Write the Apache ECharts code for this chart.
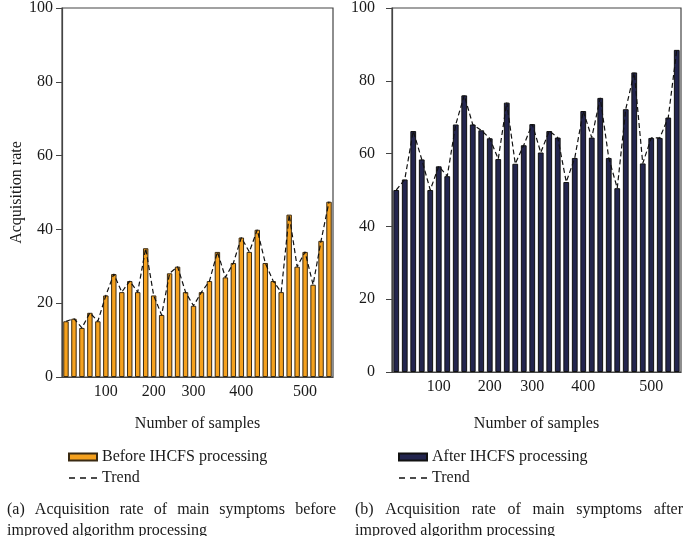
<!DOCTYPE html>
<html>
<head>
<meta charset="utf-8">
<script src="https://cdn.jsdelivr.net/npm/echarts@6/dist/echarts.min.js"></script>
<style>
  html, body { margin: 0; padding: 0; background: #fff; }
  #main { width: 683px; height: 536px; }
</style>
</head>
<body>
<div id="main"></div>
<script>
// sample counts for each bar (only some of them get a label)
var samples = [20, 35, 50, 65, 80, 100, 115, 130, 145, 160, 180, 200, 220, 240, 260, 280, 300,
               315, 330, 345, 360, 380, 400, 415, 430, 445, 460, 470, 480, 490, 500, 515, 530, 545];
var tickLabels = ['100', '200', '300', '400', '500'];

// acquisition rate before IHCFS
var before = [15.1, 15.8, 13.3, 17.4, 15.1, 22.1, 27.9, 23.0, 26.0, 23.0, 34.9, 22.1, 16.8, 28.1,
              29.9, 23.0, 19.3, 23.0, 26.0, 33.9, 27.0, 30.9, 37.8, 33.9, 39.9, 30.9, 26.0, 23.0,
              44.0, 29.9, 33.9, 25.0, 36.9, 47.5];
// acquisition rate after IHCFS
var after = [50.0, 52.9, 66.2, 58.4, 50.0, 56.5, 53.8, 68.0, 76.0, 68.0, 66.4, 64.2, 58.5, 74.0,
             57.2, 62.3, 68.1, 60.3, 66.2, 64.4, 52.2, 58.8, 71.7, 64.4, 75.3, 58.8, 50.5, 72.2,
             82.3, 57.3, 64.3, 64.3, 69.9, 88.5];

var captionA = ['(a) Acquisition rate of main symptoms before', 'improved algorithm processing'];
var captionB = ['(b) Acquisition rate of main symptoms after', 'improved algorithm processing'];

var FONT = '"Liberation Serif", "DejaVu Serif", serif';
var TXT = '#1a1a1a';
var AXIS = '#444';
// three short dashes, used as legend icon for the trend line
var DASH_ICON = 'path://M0,0L6,0L6,1.3L0,1.3ZM11,0L17,0L17,1.3L11,1.3ZM22,0L28,0L28,1.3L22,1.3Z';

function showLabel(i, v) {
    return tickLabels.indexOf(String(v)) >= 0;
}

function xAxisFor(gi, gap) {
    return {
        type: 'category',
        gridIndex: gi,
        data: samples,
        name: 'Number of samples',
        nameLocation: 'middle',
        nameGap: gap,
        nameTextStyle: { fontFamily: FONT, fontSize: 16, color: TXT },
        axisLine: { lineStyle: { color: AXIS, width: 1.2 } },
        axisTick: { alignWithLabel: true, interval: showLabel, length: 5, lineStyle: { color: AXIS } },
        axisLabel: { interval: showLabel, margin: 7, fontFamily: FONT, fontSize: 16, color: TXT },
        splitLine: { show: false }
    };
}

function yAxisFor(gi, name, margin) {
    return {
        type: 'value',
        gridIndex: gi,
        min: 0,
        max: 100,
        interval: 20,
        name: name,
        nameLocation: 'middle',
        nameGap: 37,
        nameTextStyle: { fontFamily: FONT, fontSize: 16, color: TXT },
        axisLine: { show: true, lineStyle: { color: AXIS, width: 1.2 } },
        axisTick: { show: true, length: 6, lineStyle: { color: AXIS } },
        axisLabel: { margin: margin, fontFamily: FONT, fontSize: 16, color: TXT },
        splitLine: { show: false }
    };
}

// lay out a justified caption line word by word
var measure = document.createElement('canvas').getContext('2d');
measure.font = '16px ' + FONT;
function captionTexts(lines, x0, x1, y0) {
    var out = [];
    lines.forEach(function (line, li) {
        var y = y0 + li * 21;
        if (li === lines.length - 1) {
            out.push({ type: 'text', left: x0, top: y,
                style: { text: line, font: '16px ' + FONT, fill: TXT } });
            return;
        }
        var words = line.split(' ');
        var total = 0;
        words.forEach(function (w) { total += measure.measureText(w).width; });
        var gap = (x1 - x0 - total) / (words.length - 1);
        var x = x0;
        words.forEach(function (w) {
            out.push({ type: 'text', left: x, top: y,
                style: { text: w, font: '16px ' + FONT, fill: TXT } });
            x += measure.measureText(w).width + gap;
        });
    });
    return out;
}

function legendFor(left, barName) {
    return {
        left: left, top: 444, orient: 'vertical', itemWidth: 28, itemHeight: 7, itemGap: 5,
        textStyle: { fontFamily: FONT, fontSize: 16, color: TXT },
        data: [{ name: barName, icon: 'rect' }, { name: 'Trend', icon: DASH_ICON }]
    };
}

var chart = echarts.init(document.getElementById('main'));

var option = {
    backgroundColor: '#fff',
    animation: false,
    grid: [
        { left: 62, top: 6, width: 271, height: 371, show: true, borderColor: AXIS, borderWidth: 1.2 },
        { left: 392, top: 5, width: 289, height: 367, show: true, borderColor: AXIS, borderWidth: 1.2 }
    ],
    xAxis: [xAxisFor(0, 39), xAxisFor(1, 44)],
    yAxis: [yAxisFor(0, 'Acquisition rate', 9), yAxisFor(1, '', 17)],
    legend: [
        legendFor(63, 'Before IHCFS processing'),
        legendFor(393, 'After IHCFS processing')
    ],
    series: [
        {
            name: 'Before IHCFS processing',
            type: 'bar',
            xAxisIndex: 0, yAxisIndex: 0,
            data: before,
            barCategoryGap: '32%',
            itemStyle: { color: '#F5A11E', borderColor: '#3a2a12', borderWidth: 1 }
        },
        {
            name: 'Trend',
            type: 'line',
            xAxisIndex: 0, yAxisIndex: 0,
            data: before,
            symbol: 'none',
            z: 5,
            lineStyle: { color: '#111', width: 1.2, type: [5, 3] },
            itemStyle: { color: '#111' }
        },
        {
            name: 'After IHCFS processing',
            type: 'bar',
            xAxisIndex: 1, yAxisIndex: 1,
            data: after,
            barCategoryGap: '32%',
            itemStyle: { color: '#23254E', borderColor: '#111', borderWidth: 1 }
        },
        {
            name: 'Trend',
            type: 'line',
            xAxisIndex: 1, yAxisIndex: 1,
            data: after,
            symbol: 'none',
            z: 5,
            lineStyle: { color: '#111', width: 1.2, type: [5, 3] },
            itemStyle: { color: '#111' }
        }
    ],
    graphic: captionTexts(captionA, 7, 336, 502).concat(captionTexts(captionB, 355, 683, 502))
};

chart.setOption(option);
</script>
</body>
</html>
